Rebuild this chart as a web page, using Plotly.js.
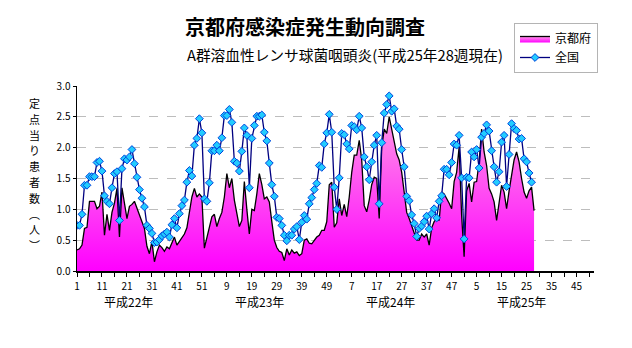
<!DOCTYPE html>
<html>
<head>
<meta charset="utf-8">
<script src="https://cdn.plot.ly/plotly-3.0.1.min.js"></script>
<style>html,body{margin:0;padding:0;background:#fff;}#chart{width:632px;height:348px;}</style>
</head>
<body>
<div id="chart"></div>
<script>
// 京都府 定点当り患者数 (週番号: 平成22年第1週からの通し番号)
const kyoto = [
0.34,0.36,0.42,0.69,0.71,1.13,1.13,1.13,1.01,1.05,
1.28,0.58,0.92,0.66,0.95,1.10,1.34,0.55,1.35,1.10,
0.85,1.05,1.08,1.13,1.01,0.90,0.80,0.69,0.40,0.28,
0.48,0.15,0.31,0.42,0.38,0.32,0.39,0.36,0.45,0.55,
0.42,0.48,0.55,0.60,0.70,0.96,1.20,1.34,1.20,1.25,
1.20,0.37,0.55,0.72,0.88,0.92,0.72,0.85,0.95,1.20,
1.58,1.35,1.50,1.15,0.90,0.72,0.82,1.45,1.00,0.60,
1.00,0.98,1.25,1.58,1.40,1.17,1.20,1.12,0.80,0.50,
0.38,0.32,0.30,0.17,0.36,0.26,0.34,0.29,0.31,0.25,
0.28,0.50,0.52,0.45,0.44,0.50,0.55,0.58,0.66,0.66,
0.80,1.40,1.44,0.71,0.78,1.17,0.90,1.08,0.88,1.20,
1.60,1.88,1.88,2.12,1.80,1.06,0.96,1.15,1.40,1.52,
1.50,0.85,2.00,2.30,2.23,2.50,2.30,2.10,1.90,1.80,
1.60,1.28,0.95,0.85,0.74,0.60,0.50,0.50,0.60,0.55,
0.60,0.42,0.70,0.80,0.85,0.82,1.28,1.25,1.18,1.10,
1.01,1.45,1.60,2.01,0.90,0.23,1.30,1.42,1.12,1.44,
1.45,1.77,2.30,1.93,1.71,1.34,1.25,1.12,0.82,1.10,
1.39,1.28,1.01,1.30,1.55,1.80,1.93,1.77,1.50,1.28,
1.18,1.30,1.36,0.98
];
// 全国 定点当り患者数
const national = [
0.74,0.74,0.92,1.39,1.39,1.53,1.53,1.53,1.76,1.78,
1.62,1.22,1.13,1.09,1.35,1.58,1.61,0.82,1.66,1.82,
1.80,1.85,1.97,1.74,1.52,1.32,1.18,1.04,0.74,0.69,
0.61,0.46,0.47,0.51,0.57,0.60,0.63,0.55,0.75,0.85,
0.70,0.93,1.06,1.15,1.44,1.63,1.54,2.04,2.15,2.47,
2.24,1.17,1.13,1.43,1.95,1.95,2.04,1.95,2.16,2.52,
2.52,2.62,2.41,1.78,1.75,1.62,1.94,2.32,2.20,1.35,
2.15,2.36,2.51,2.51,2.53,2.25,2.11,1.75,1.40,1.21,
0.87,0.85,0.74,0.58,0.49,0.58,0.58,0.68,0.72,0.51,
0.79,0.90,0.84,1.09,1.19,1.32,1.42,1.71,1.68,2.06,
2.24,2.54,2.25,1.36,1.00,1.51,2.23,2.21,2.06,1.98,
2.36,2.34,2.29,2.51,2.32,1.85,1.69,1.48,1.77,2.04,
2.20,1.09,2.08,2.56,2.70,2.84,2.59,2.63,2.35,2.30,
1.97,1.69,1.21,1.14,0.91,0.77,0.56,0.69,0.73,0.80,
0.89,0.68,0.93,1.01,0.86,1.13,1.22,1.65,1.65,1.56,
1.76,2.06,2.04,2.20,1.51,0.52,1.52,1.51,1.93,1.85,
1.97,1.67,2.17,2.23,2.37,2.27,1.95,1.69,1.44,1.61,
2.09,2.20,1.37,1.89,2.39,2.31,2.28,2.14,2.15,1.82,
1.77,1.59,1.44
];
const xTickLabels = ['1','11','21','31','41','51','9','19','29','39','49','7','17','27','37','47','5','15','25','35','45'];
const yearLabels = ['平成22年','平成23年','平成24年','平成25年'];
const seriesNames = ['京都府','全国'];
const titleText = '京都府感染症発生動向調査';
const subtitleText = 'A群溶血性レンサ球菌咽頭炎(平成25年28週現在)';
const yTitleChars = ['定','点','当','り','患','者','数','︵','人','︶'];

const FONT = '"Noto Sans CJK JP", "Noto Sans", sans-serif';
const idx = n => Array.from({length:n}, (_,i)=>i+1);

const traces = [
  {
    x: idx(kyoto.length), y: kyoto, name: seriesNames[0], type:'scatter', mode:'lines',
    line:{color:'#000000', width:1.3},
    fill:'tozeroy',
    fillgradient:{type:'vertical', start:0, stop:2.6, colorscale:[[0,'#ff00ff'],[1,'#ff9ae6']]},
    fillcolor:'#ff66ee'
  },
  {
    x: idx(national.length), y: national, name: seriesNames[1], type:'scatter', mode:'lines+markers',
    line:{color:'#000080', width:1.3},
    marker:{symbol:'diamond', size:6, color:'#22ccff', line:{color:'#0044dd', width:1}}
  }
];

const yearPos = [21.5, 74, 126.5, 179];
const annotations = yearLabels.map((t,k)=>({
  text:t, xref:'x', yref:'paper', x:yearPos[k], y:(271-301)/185, xanchor:'center', yanchor:'middle',
  showarrow:false, font:{family:FONT, size:12, color:'#000'}
}));
annotations.push({
  text: subtitleText, xref:'paper', yref:'paper', x:(185-77)/517, y:(271-54)/185,
  xanchor:'left', yanchor:'middle', showarrow:false, font:{family:FONT, size:14.7, color:'#000'}
});
// vertical y-axis title: one upright character per row
yTitleChars.forEach((ch,k)=>{
  const py = 103 + k*15.8;
  annotations.push({
    text: ch, xref:'paper', yref:'paper', x:(34-77)/517, y:(271-py)/185,
    xanchor:'center', yanchor:'middle', showarrow:false,
    font:{family:FONT, size:11, color:'#000'}
  });
});

const layout = {
  width:632, height:348,
  margin:{l:77, r:38, t:86, b:77, pad:0},
  paper_bgcolor:'#ffffff', plot_bgcolor:'#ffffff',
  font:{family:FONT, color:'#000'},
  title:{text:'<b>'+titleText+'</b>', x:185/632, xanchor:'left', xref:'container',
         y:1-28/348, yanchor:'middle', yref:'container', font:{family:FONT, size:20, color:'#000'}},
  showlegend:true,
  legend:{x:(514-77)/517, y:(271-23)/185, xanchor:'left', yanchor:'top',
          bgcolor:'#ffffff', bordercolor:'#b4b4b4', borderwidth:1,
          font:{family:FONT, size:12, color:'#000'}, tracegroupgap:0, itemwidth:30},
  xaxis:{
    range:[1,208], showgrid:false, zeroline:false,
    showline:true, linecolor:'#000', linewidth:1.5,
    tickmode:'array', tickvals:xTickLabels.map((_,k)=>1+10*k), ticktext:xTickLabels,
    ticks:'outside', ticklen:4, tickcolor:'#000', tickwidth:1,
    minor:{tickmode:'linear', tick0:1, dtick:5, ticks:'outside', ticklen:4, tickcolor:'#000', showgrid:false},
    ticklabelstandoff:1,
    tickfont:{family:FONT, size:10, color:'#000'}, fixedrange:true
  },
  yaxis:{
    range:[0,3], dtick:0.5, tick0:0, tickformat:'.1f',
    showgrid:true, gridcolor:'#bdbdbd', griddash:'dash', gridwidth:1,
    zeroline:false, showline:true, linecolor:'#000', linewidth:1.5,
    ticks:'outside', ticklen:3, tickcolor:'#000',
    tickfont:{family:FONT, size:10, color:'#000'}, fixedrange:true
  },
  annotations: annotations
};

Plotly.newPlot('chart', traces, layout, {staticPlot:true, displayModeBar:false});
</script>
</body>
</html>
